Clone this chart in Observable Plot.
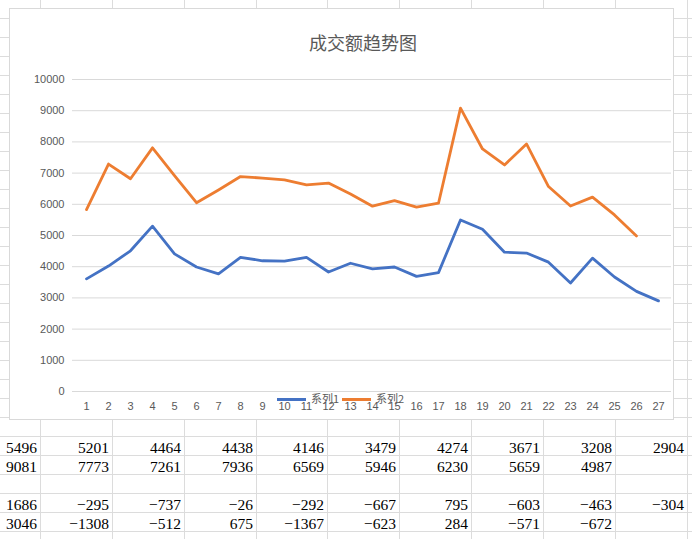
<!DOCTYPE html>
<html><head><meta charset="utf-8">
<script src="https://cdn.jsdelivr.net/npm/d3@7"></script>
<script src="https://cdn.jsdelivr.net/npm/@observablehq/plot@0.6"></script>
<style>
html,body{margin:0;padding:0;background:#fff;}
#sheet{position:relative;width:692px;height:539px;overflow:hidden;background:#fff;}
.vl{position:absolute;top:0;width:1px;height:539px;background:#dcdcdc;}
.hl{position:absolute;left:0;height:1px;width:692px;background:#dcdcdc;}
.cell{position:absolute;height:19px;line-height:19px;font-family:"Liberation Serif",serif;font-size:15.5px;color:#000;text-align:right;white-space:nowrap;}
#chart{position:absolute;left:9px;top:8px;width:665px;height:412px;background:#fff;box-shadow:inset 0 0 0 1px #d9d9d9;}
#chart svg{position:absolute;left:0;top:0;}
#title{position:absolute;left:254px;width:200px;top:21px;height:26px;line-height:26px;text-align:center;font-family:"Noto Sans CJK SC",sans-serif;font-size:18px;color:#595959;}
.lg{position:absolute;font-family:"Noto Sans CJK SC",sans-serif;font-size:11px;color:#595959;line-height:14px;}
.ll{position:absolute;height:3px;}
</style>
</head><body>
<div id="sheet"></div>
<script>
// chart data
const categories = [1,2,3,4,5,6,7,8,9,10,11,12,13,14,15,16,17,18,19,20,21,22,23,24,25,26,27];
const series1 = [3610,4020,4510,5300,4410,3990,3770,4300,4190,4180,4300,3830,4110,3930,3990,3690,3810,5496,5201,4464,4438,4146,3479,4274,3671,3208,2904];
const series2 = [5830,7290,6820,7810,6920,6050,6460,6890,6840,6780,6620,6680,6330,5940,6120,5910,6035,9081,7773,7261,7936,6569,5946,6230,5659,4987];
const seriesNames = ["系列1","系列2"];
const seriesColors = ["#4472C4","#ED7D31"];
const yTicks = [0,1000,2000,3000,4000,5000,6000,7000,8000,9000,10000];
const title = "成交额趋势图";
// spreadsheet cells below the chart
const cellRow1 = [5496,5201,4464,4438,4146,3479,4274,3671,3208,2904];
const cellRow2 = [9081,7773,7261,7936,6569,5946,6230,5659,4987];
const cellRow3 = [];
const cellRow4 = [1686,-295,-737,-26,-292,-667,795,-603,-463,-304];
const cellRow5 = [3046,-1308,-512,675,-1367,-623,284,-571,-672];

const sheet = document.getElementById("sheet");
const colEdges = [40,112,184,256,327,399,471,543,615,687];
for (const x of colEdges) {
  const d = document.createElement("div"); d.className = "vl"; d.style.left = x + "px"; sheet.appendChild(d);
}
for (let k = 0; k < 29; k++) {
  const d = document.createElement("div"); d.className = "hl"; d.style.top = (18 + 19*k) + "px"; sheet.appendChild(d);
}
const rows = [cellRow1, cellRow2, cellRow3, cellRow4, cellRow5];
rows.forEach((r, i) => {
  const top = 436 + 19*i;
  r.forEach((v, j) => {
    const d = document.createElement("div");
    d.className = "cell";
    d.style.top = (top + 1.6) + "px";
    d.style.right = (692 - colEdges[j] + 3) + "px";
    d.textContent = String(v).replace("-", "−");
    sheet.appendChild(d);
  });
});

const chart = document.createElement("div"); chart.id = "chart"; sheet.appendChild(chart);

const data = [];
categories.forEach((c, i) => { if (series1[i] != null) data.push({x: c, v: series1[i], s: seriesNames[0]}); });
categories.forEach((c, i) => { if (series2[i] != null) data.push({x: c, v: series2[i], s: seriesNames[1]}); });

const plot = Plot.plot({
  width: 665, height: 412,
  marginLeft: 63, marginRight: 3, marginTop: 71, marginBottom: 29,
  style: {fontFamily: "'Liberation Sans', sans-serif", fontSize: "11px", color: "#595959", background: "transparent", overflow: "visible"},
  x: {type: "point", domain: categories, padding: 0.5, label: null},
  y: {domain: [0, 10000], label: null},
  color: {domain: seriesNames, range: seriesColors},
  marks: [
    Plot.gridY(yTicks, {stroke: "#d9d9d9", strokeOpacity: 1}),
    Plot.axisY(yTicks, {tickSize: 0, tickPadding: 8, tickFormat: d3.format("d"), fill: "#595959", fontSize: 11}),
    Plot.axisX(categories, {tickSize: 0, tickPadding: 11, fill: "#595959", fontSize: 11}),
    Plot.lineY(data, {x: "x", y: "v", z: "s", stroke: "s", strokeWidth: 2.8, strokeLinejoin: "round", strokeLinecap: "round"})
  ]
});
chart.appendChild(plot);

const t = document.createElement("div"); t.id = "title"; t.textContent = title; chart.appendChild(t);
// legend (chart-relative positions)
const legendPos = [{lx: 268, tx: 302}, {lx: 333, tx: 367}];
seriesNames.forEach((n, i) => {
  const l = document.createElement("div"); l.className = "ll";
  l.style.left = legendPos[i].lx + "px"; l.style.top = "390px"; l.style.width = "29px"; l.style.background = seriesColors[i];
  chart.appendChild(l);
  const s = document.createElement("div"); s.className = "lg";
  s.style.left = legendPos[i].tx + "px"; s.style.top = "383px"; s.textContent = n;
  chart.appendChild(s);
});
</script>
</body></html>
